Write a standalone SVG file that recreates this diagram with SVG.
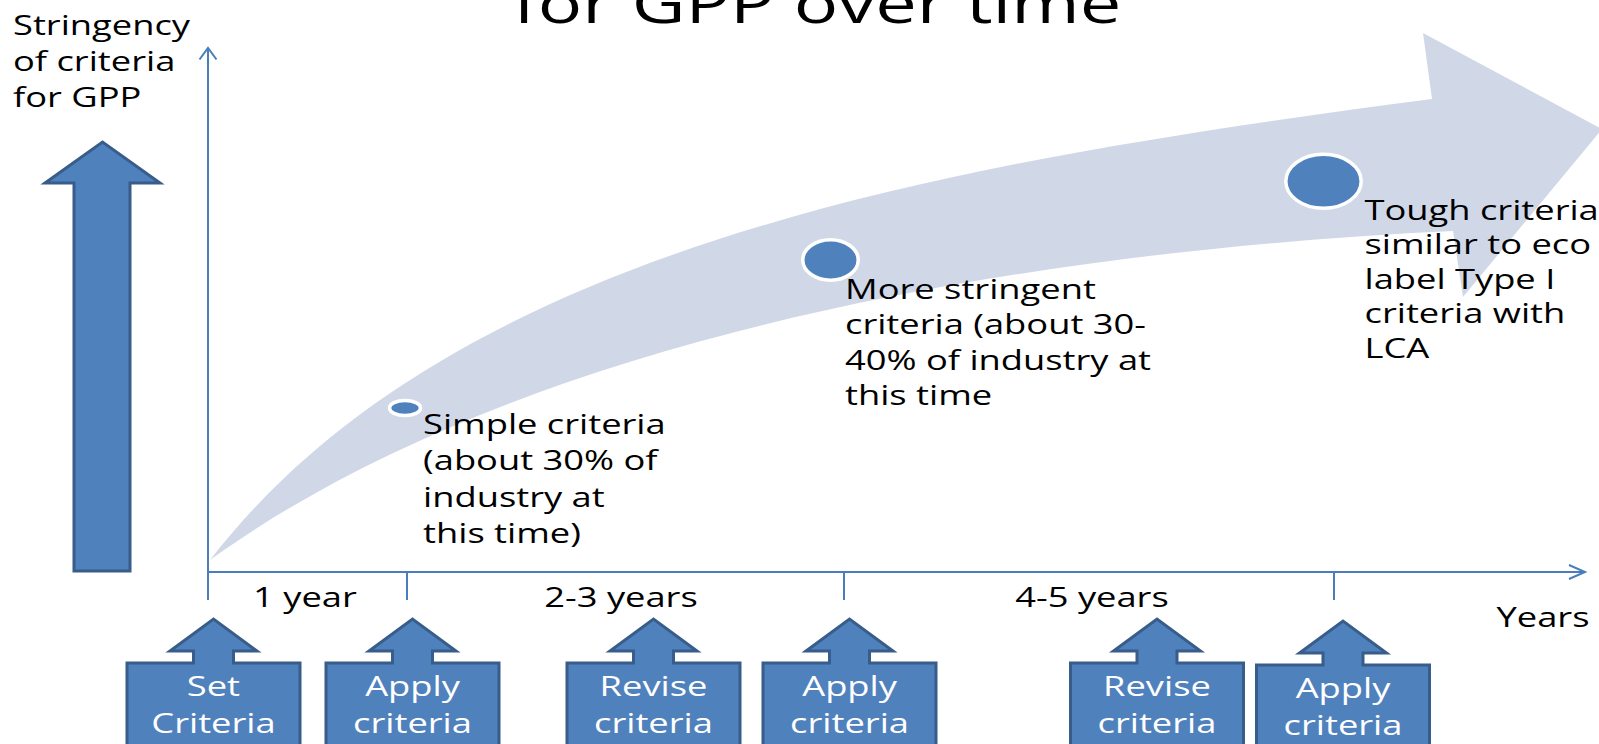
<svg xmlns="http://www.w3.org/2000/svg" width="1599" height="744" viewBox="0 0 1599 744">
<style>
.t{font-family:"Open Sans","DejaVu Sans",sans-serif;font-size:26.5px;fill:#000}
.w{font-family:"Open Sans","DejaVu Sans",sans-serif;font-size:26.5px;fill:#fff;text-anchor:middle}
.m{text-anchor:middle}
.ax{stroke:#4A7EBB;stroke-width:2;fill:none}
.call{fill:#4F81BD;stroke:#385D8A;stroke-width:3;stroke-linejoin:miter}
.dot{fill:#4F81BD;stroke:#fff;stroke-width:3.5}
</style>
<defs>
<path id="callout" d="M-86.5,100 L-86.5,0 L-20,0 L-20,-12 L-43.5,-12 L0,-44 L43.5,-12 L20,-12 L20,0 L86.5,0 L86.5,100 Z"/>
</defs>
<rect width="1599" height="744" fill="#fff"/>
<g id="band">
<path fill="#D0D8E8" d="M210,560 C450,250 932,164 1432,99 L1423,33 L1602,129 L1463,297 L1453,231 C1003,252 510,343 210,560 Z"/>
</g>
<g id="axes">
<line class="ax" x1="208" y1="48" x2="208" y2="600"/>
<polyline class="ax" points="199.5,59.5 208,48 216.5,59.5"/>
<line class="ax" x1="208" y1="572" x2="1585" y2="572"/>
<polyline class="ax" points="1569,565 1585,572 1569,579"/>
<line class="ax" x1="407" y1="572" x2="407" y2="600"/>
<line class="ax" x1="844" y1="572" x2="844" y2="600"/>
<line class="ax" x1="1334" y1="572" x2="1334" y2="600"/>
</g>
<g id="stringency-arrow">
<polygon class="call" points="74,571 74,183 45,183 102.5,142 160,183 130,183 130,571"/>
</g>
<g id="dots">
<ellipse class="dot" cx="405" cy="408" rx="15.5" ry="7.5"/>
<ellipse class="dot" cx="830.5" cy="260" rx="27.7" ry="20.2"/>
<ellipse class="dot" cx="1323.5" cy="181.3" rx="37.7" ry="27"/>
</g>
<g id="callouts">
<use href="#callout" class="call" x="213.5" y="663"/>
<use href="#callout" class="call" x="412.5" y="663"/>
<use href="#callout" class="call" x="653.5" y="663"/>
<use href="#callout" class="call" x="849.5" y="663"/>
<use href="#callout" class="call" x="1157" y="663"/>
<use href="#callout" class="call" x="1343" y="665"/>
</g>
<g id="texts" transform="scale(1.37,1)">
<text class="t m" x="596.4" y="23" style="font-size:54px">for GPP over time</text>
<text class="t" x="9.5" y="35">Stringency</text>
<text class="t" x="9.5" y="71">of criteria</text>
<text class="t" x="9.5" y="107">for GPP</text>
<text class="t" x="308.8" y="434">Simple criteria</text>
<text class="t" x="308.8" y="470.5">(about 30% of</text>
<text class="t" x="308.8" y="507">industry at</text>
<text class="t" x="308.8" y="543.5">this time)</text>
<text class="t" x="616.8" y="299">More stringent</text>
<text class="t" x="616.8" y="334.5">criteria (about 30-</text>
<text class="t" x="616.8" y="370">40% of industry at</text>
<text class="t" x="616.8" y="405.5">this time</text>
<text class="t" x="996" y="220">Tough criteria</text>
<text class="t" x="996" y="254.5">similar to eco</text>
<text class="t" x="996" y="289">label Type I</text>
<text class="t" x="996" y="323.5">criteria with</text>
<text class="t" x="996" y="358">LCA</text>
<text class="t m" x="222.6" y="607">1 year</text>
<text class="t m" x="453.3" y="607">2-3 years</text>
<text class="t m" x="797.1" y="607">4-5 years</text>
<text class="t m" x="1126.3" y="627">Years</text>
<text class="w" x="155.8" y="696">Set</text>
<text class="w" x="155.8" y="733">Criteria</text>
<text class="w" x="301.1" y="696">Apply</text>
<text class="w" x="301.1" y="733">criteria</text>
<text class="w" x="477" y="696">Revise</text>
<text class="w" x="477" y="733">criteria</text>
<text class="w" x="620.1" y="696">Apply</text>
<text class="w" x="620.1" y="733">criteria</text>
<text class="w" x="844.5" y="696">Revise</text>
<text class="w" x="844.5" y="733">criteria</text>
<text class="w" x="980.3" y="698">Apply</text>
<text class="w" x="980.3" y="735">criteria</text>
</g>
</svg>
